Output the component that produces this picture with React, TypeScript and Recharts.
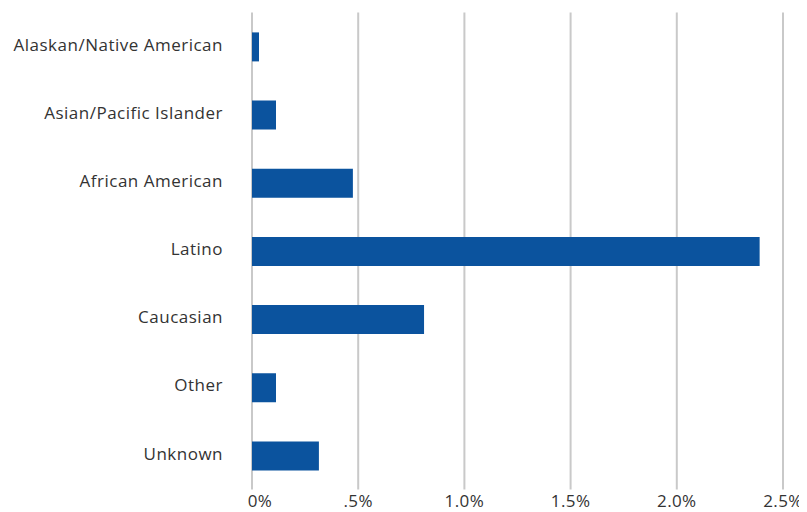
import { BarChart, Bar, XAxis, YAxis, CartesianGrid } from "recharts";

const groups = [
  "Alaskan/Native American",
  "Asian/Pacific Islander",
  "African American",
  "Latino",
  "Caucasian",
  "Other",
  "Unknown",
];

const rates = [0.033, 0.113, 0.475, 2.39, 0.81, 0.113, 0.315];

const xTicks = [0, 0.5, 1.0, 1.5, 2.0, 2.5];
const xTickLabels = ["0%", ".5%", "1.0%", "1.5%", "2.0%", "2.5%"];

const data = groups.map((name, i) => ({ name, rate: rates[i] }));

const FONT = "'Open Sans', sans-serif";

// x tick: the 0% label sits a little right of its gridline in the original
const XTick = ({ x, y, payload, index }: any) => (
  <text
    x={x + (index === 0 ? 8 : 0)}
    y={y}
    dy="0.71em"
    textAnchor="middle"
    fill="#333333"
    fontSize={17}
    fontFamily={FONT}
    letterSpacing={0.4}
  >
    {xTickLabels[xTicks.indexOf(payload.value)]}
  </text>
);

export default function App() {
  return (
    <div style={{ width: 799, height: 504, fontFamily: FONT }}>
      <BarChart
        width={799}
        height={504}
        data={data}
        layout="vertical"
        margin={{ top: 4.4, right: 24, bottom: 0, left: 0 }}
        barCategoryGap={0}
      >
        <CartesianGrid horizontal={false} stroke="#c9c9c9" strokeWidth={2} />
        <XAxis
          type="number"
          domain={[0, 2.5]}
          ticks={xTicks}
          axisLine={false}
          tickLine={false}
          tickSize={0}
          tickMargin={5}
          height={22.4}
          interval={0}
          tick={<XTick />}
        />
        <YAxis
          type="category"
          dataKey="name"
          width={244}
          axisLine={false}
          tickLine={false}
          tickSize={0}
          tickMargin={29}
          interval={0}
          tick={{ fill: "#333333", fontSize: 17, fontFamily: FONT, letterSpacing: 0.5, dy: -2 }}
        />
        <Bar dataKey="rate" fill="#0b539e" barSize={29} isAnimationActive={false} />
      </BarChart>
    </div>
  );
}
